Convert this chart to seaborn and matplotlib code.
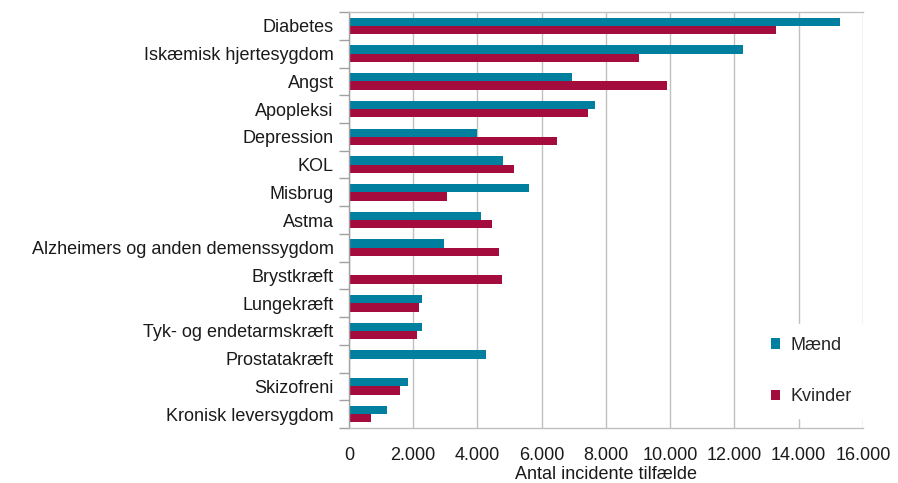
import pandas as pd
import numpy as np
import matplotlib
matplotlib.use("Agg")
import matplotlib.pyplot as plt
from matplotlib.ticker import FuncFormatter, FixedLocator
import seaborn as sns

sygdomme = ["Diabetes", "Iskæmisk hjertesygdom", "Angst", "Apopleksi", "Depression",
            "KOL", "Misbrug", "Astma", "Alzheimers og anden demenssygdom", "Brystkræft",
            "Lungekræft", "Tyk- og endetarmskræft", "Prostatakræft", "Skizofreni",
            "Kronisk leversygdom"]
maend = [15270, 12250, 6940, 7670, 3970, 4800, 5600, 4110, 2970, None,
         2270, 2270, 4260, 1830, 1180]
kvinder = [13290, 9020, 9910, 7430, 6490, 5150, 3060, 4450, 4660, 4750,
           2170, 2120, None, 1580, 690]

rows = []
for s, m, k in zip(sygdomme, maend, kvinder):
    if m is not None:
        rows.append({"Sygdom": s, "Køn": "Mænd", "Antal": m})
    if k is not None:
        rows.append({"Sygdom": s, "Køn": "Kvinder", "Antal": k})
df = pd.DataFrame(rows)

sns.set_style("white")
plt.rcParams['font.family'] = ['Liberation Sans', 'DejaVu Sans']

fig = plt.figure(figsize=(8.98, 4.83), dpi=100)
ax = fig.add_axes([0.3886, 0.1139, 0.961 - 0.3886, 0.975 - 0.1139])

farver = {"Mænd": "#007f9f", "Kvinder": "#a50c3e"}
sns.barplot(data=df, y="Sygdom", x="Antal", hue="Køn", order=sygdomme,
            hue_order=["Mænd", "Kvinder"], palette=farver, width=0.6,
            orient="h", ax=ax, errorbar=None, saturation=1, linewidth=0)

ax.set_xlim(0, 16000)
ax.set_ylim(len(sygdomme) - 0.5, -0.5)
ax.set_xticks(range(0, 16001, 2000))
ax.xaxis.set_major_formatter(FuncFormatter(lambda v, p: f"{int(v):,}".replace(",", ".")))
ax.grid(axis="x", color="#c0c0c0", linewidth=1.0)
ax.set_axisbelow(True)

ax.yaxis.set_minor_locator(FixedLocator(np.arange(-0.5, len(sygdomme), 1)))
ax.tick_params(axis="y", which="major", length=0, pad=11, labelsize=13, labelcolor="#1a1a1a")
ax.tick_params(axis="y", which="minor", length=7, width=1.0, color="#a0a0a0", left=True)
ax.tick_params(axis="x", length=0, pad=14, labelsize=13, labelcolor="#1a1a1a")

for side in ["left", "bottom", "top", "right"]:
    ax.spines[side].set_color("#c0c0c0")
    ax.spines[side].set_linewidth(1.0)
ax.spines["left"].set_color("#a0a0a0")
ax.spines["right"].set_visible(False)

ax.set_ylabel("")
ax.set_xlabel("Antal incidente tilfælde", fontsize=13, color="#1a1a1a", labelpad=1)

leg = ax.legend(loc="center", bbox_to_anchor=(0.9, 0.137), frameon=True,
                fontsize=13, labelspacing=1.9, handlelength=0.5, handleheight=0.5,
                handletextpad=0.6, borderpad=0.7)
leg.get_frame().set_facecolor("white")
leg.get_frame().set_edgecolor("white")
leg.get_frame().set_alpha(1)

fig.savefig("out.png", dpi=100)
